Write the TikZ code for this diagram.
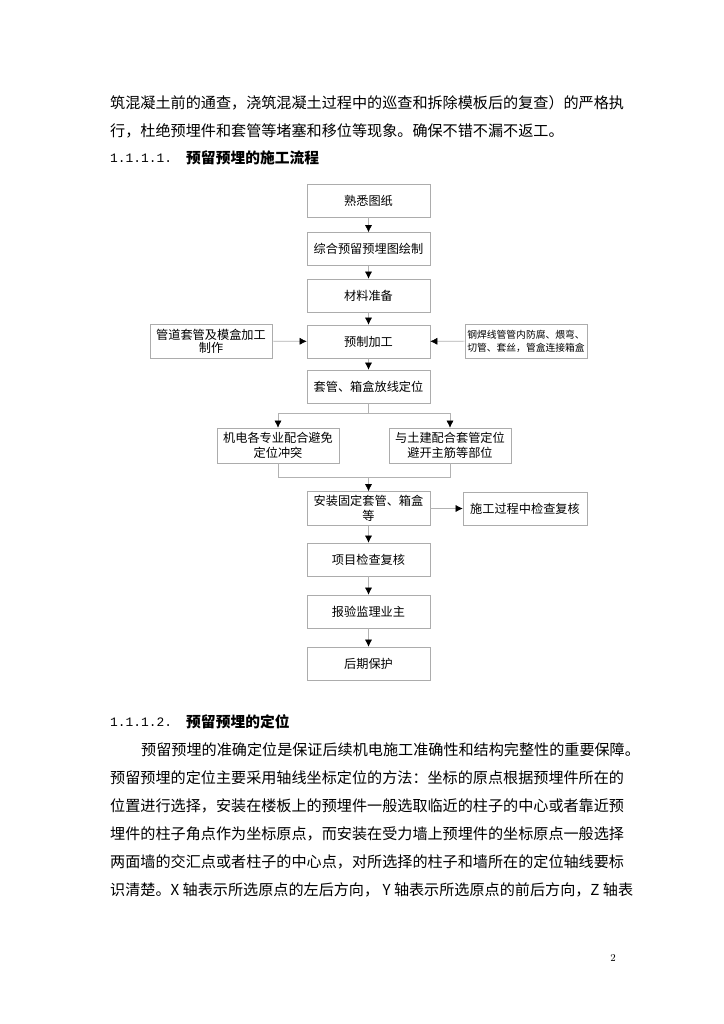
\documentclass[tikz,border=0pt]{standalone}
\usepackage{fontspec}
\newfontfamily\cjk{Noto Sans CJK SC}
\newfontfamily\numfont{Liberation Mono}
\usetikzlibrary{positioning,arrows.meta}

\begin{document}
\begin{tikzpicture}[x=0.03cm, y=-0.03cm,
  txt/.style={anchor=west, inner sep=0pt, font=\cjk\fontsize{12.9pt}{15pt}\selectfont},
  num/.style={anchor=west, inner sep=0pt, font=\numfont\fontsize{11pt}{15pt}\selectfont},
  hd/.style={txt, font=\cjk\bfseries\fontsize{12.6pt}{15pt}\selectfont},
  proc/.style={draw=gray!65, line width=0.5pt, minimum width=3.69cm, minimum height=0.99cm,
    align=center, inner sep=1pt, font=\cjk\fontsize{10.4pt}{12.8pt}\selectfont},
  side/.style={proc, minimum width=3.66cm, minimum height=1.02cm},
  link/.style={draw=gray!60, line width=0.5pt},
  tip/.style={link, -{Latex[color=black,length=6pt,width=6pt]}}]

  % Page
  \useasboundingbox[fill=white] (0,0) rectangle (724,1024);

  % Text before the chart
  \node[txt] (l1) at (110,103) {筑混凝土前的通查，浇筑混凝土过程中的巡查和拆除模板后的复查）的严格执};
  \node[txt] (l2) at (110,131) {行，杜绝预埋件和套管等堵塞和移位等现象。确保不错不漏不返工。};
  \node[num] (h1n) at (110,158) {1.1.1.1.};
  \node[hd] (h1) at (186,158) {预留预埋的施工流程};

  % Main column
  \node[proc] (fam) at (368.5,200.5) {熟悉图纸};
  \node[proc] (drw) at (368.5,249) {综合预留预埋图绘制};
  \node[proc] (mat) at (368.5,295.5) {材料准备};
  \node[proc] (pre) at (368.5,341.5) {预制加工};
  \node[proc] (loc) at (368.5,386.5) {套管、箱盒放线定位};
  \node[proc, minimum width=3.66cm, minimum height=1.05cm] (coord) at (278,445.5) {机电各专业配合避免\\定位冲突};
  \node[proc, minimum width=3.66cm, minimum height=1.05cm] (civil) at (450,445.5) {与土建配合套管定位\\避开主筋等部位};
  \node[proc, minimum height=1.02cm] (inst) at (368.5,508.5) {安装固定套管、箱盒\\等};
  \node[proc, minimum width=3.72cm] (chk) at (525,508.5) {施工过程中检查复核};
  \node[proc] (proj) at (368.5,559.5) {项目检查复核};
  \node[proc] (rep) at (368.5,611.5) {报验监理业主};
  \node[proc] (prot) at (368.5,663.5) {后期保护};

  % Side inputs
  \node[side, font=\cjk\fontsize{10.4pt}{11pt}\selectfont] (pipe) at (211,341) {管道套管及模盒加工\\制作};
  \node[side, font=\cjk\fontsize{8.35pt}{11pt}\selectfont] (steel) at (526,341) {钢焊线管管内防腐、煨弯、\\切管、套丝，管盒连接箱盒};

  % Connectors
  \draw[tip] (fam) -- (drw);
  \draw[tip] (drw) -- (mat);
  \draw[tip] (mat) -- (pre);
  \draw[tip] (pipe) -- (pre);
  \draw[tip] (steel) -- (pre);
  \draw[tip] (pre) -- (loc);
  \coordinate (splt) at (368.5,413);
  \coordinate (mrg) at (368.5,477);
  \draw[link] (loc.south) -- (splt);
  \draw[tip] (splt) -| (coord.north);
  \draw[tip] (splt) -| (civil.north);
  \draw[link] (coord.south) |- (mrg);
  \draw[link] (civil.south) |- (mrg);
  \draw[tip] (mrg) -- (inst.north);
  \draw[tip] (inst) -- (chk);
  \draw[tip] (inst) -- (proj);
  \draw[tip] (proj) -- (rep);
  \draw[tip] (rep) -- (prot);

  % Text after the chart
  \node[num] (h2n) at (110,722) {1.1.1.2.};
  \node[hd] (h2) at (186,722) {预留预埋的定位};
  \node[txt] (p1) at (141,750) {预留预埋的准确定位是保证后续机电施工准确性和结构完整性的重要保障。};
  \node[txt] (p2) at (110,778) {预留预埋的定位主要采用轴线坐标定位的方法：坐标的原点根据预埋件所在的};
  \node[txt] (p3) at (110,806) {位置进行选择，安装在楼板上的预埋件一般选取临近的柱子的中心或者靠近预};
  \node[txt] (p4) at (110,834) {埋件的柱子角点作为坐标原点，而安装在受力墙上预埋件的坐标原点一般选择};
  \node[txt] (p5) at (110,862) {两面墙的交汇点或者柱子的中心点，对所选择的柱子和墙所在的定位轴线要标};
  \node[txt] (p6) at (110,890) {识清楚。X 轴表示所选原点的左后方向， Y 轴表示所选原点的前后方向，Z 轴表};

  % Page number
  \node[font=\fontsize{9pt}{9pt}\selectfont, inner sep=0pt] (pg) at (613,958) {2};
\end{tikzpicture}
\end{document}
